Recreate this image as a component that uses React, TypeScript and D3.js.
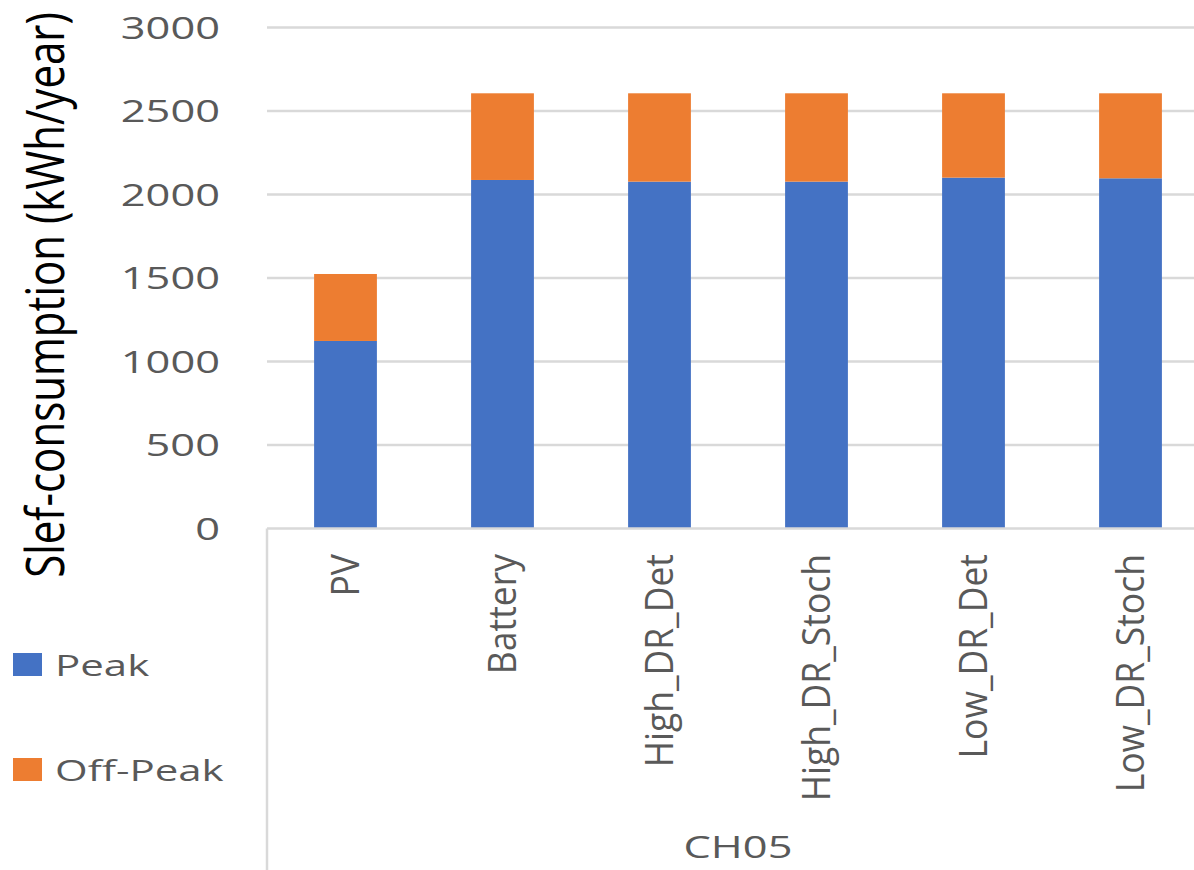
import React from "react";
import * as d3 from "d3";

// categories and stacked values
const categories = ["PV", "Battery", "High_DR_Det", "High_DR_Stoch", "Low_DR_Det", "Low_DR_Stoch"];
const peak = [1123, 2087, 2077, 2077, 2101, 2097];
const offPeak = [401, 519, 529, 529, 505, 509];
const yTicks = [0, 500, 1000, 1500, 2000, 2500, 3000];
const seriesNames = ["Peak", "Off-Peak"];
const colors = ["#4472c4", "#ed7d31"];
const groupLabel = "CH05";

const width = 1194;
const height = 870;
const plotLeft = 267;
const plotRight = 1209;
const yBottom = 528.5;
const yTop = 27.5;
const stretch = 1.4; // the source image is stretched horizontally

export default function App() {
  const x = d3.scaleBand<string>().domain(categories).range([plotLeft, plotRight]).paddingInner(0.6).paddingOuter(0.3);
  const y = d3.scaleLinear().domain([0, 3000]).range([yBottom, yTop]);

  const rows = categories.map((c, i) => ({ cat: c, Peak: peak[i], "Off-Peak": offPeak[i] }));
  const stacked = d3.stack<any>().keys(seriesNames)(rows);

  const tickFont = "'Open Sans', 'Noto Sans', sans-serif";

  return (
    <svg width={width} height={height} style={{ position: "absolute", left: 0, top: 0, background: "#fff" }}>
      {/* gridlines */}
      {yTicks.slice(1).map((t) => (
        <line key={t} x1={plotLeft} x2={width} y1={y(t)} y2={y(t)} stroke="#d9d9d9" strokeWidth={2.5} />
      ))}

      {/* bars */}
      {stacked.map((s, si) => (
        <g key={s.key} fill={colors[si]}>
          {s.map((d, i) => (
            <rect key={i} x={x(categories[i])} width={x.bandwidth()} y={y(d[1])} height={y(d[0]) - y(d[1])} />
          ))}
        </g>
      ))}

      {/* axis lines */}
      <line x1={plotLeft} x2={width} y1={yBottom} y2={yBottom} stroke="#d9d9d9" strokeWidth={2.5} />
      <line x1={plotLeft} x2={plotLeft} y1={yBottom} y2={height} stroke="#d9d9d9" strokeWidth={2.5} />

      {/* y tick labels */}
      {yTicks.map((t) => (
        <g key={t} transform={`translate(220, ${y(t)}) scale(${stretch}, 1)`}>
          <text textAnchor="end" dy="0.36em" fontSize={31} fontFamily={tickFont} fill="#595959">
            {t}
          </text>
        </g>
      ))}

      {/* category labels */}
      {categories.map((c) => (
        <g key={c} transform={`translate(${(x(c) as number) + x.bandwidth() / 2}, 554) scale(1.08, 1) rotate(-90)`}>
          <text textAnchor="end" dy="0.35em" fontSize={35.5} fontFamily={tickFont} fill="#595959">
            {c}
          </text>
        </g>
      ))}

      <g transform={`translate(${(plotLeft + plotRight) / 2}, 858) scale(1.4, 1)`}>
        <text textAnchor="middle" fontSize={31} fontFamily={tickFont} fill="#595959">
          {groupLabel}
        </text>
      </g>

      {/* y axis title */}
      <g transform={`translate(45, 295) scale(1.27, 1) rotate(-90)`}>
        <text textAnchor="middle" dy="0.35em" fontSize={42} fontFamily={tickFont} fill="#000">
          Slef-consumption (kWh/year)
        </text>
      </g>

      {/* legend */}
      {seriesNames.map((n, i) => (
        <g key={n} transform={`translate(13, ${653 + i * 105})`}>
          <rect width={29} height={23} fill={colors[i]} />
          <g transform={`translate(42, 23) scale(${stretch}, 1)`}>
            <text fontSize={30} fontFamily={tickFont} fill="#595959">
              {n}
            </text>
          </g>
        </g>
      ))}
    </svg>
  );
}
